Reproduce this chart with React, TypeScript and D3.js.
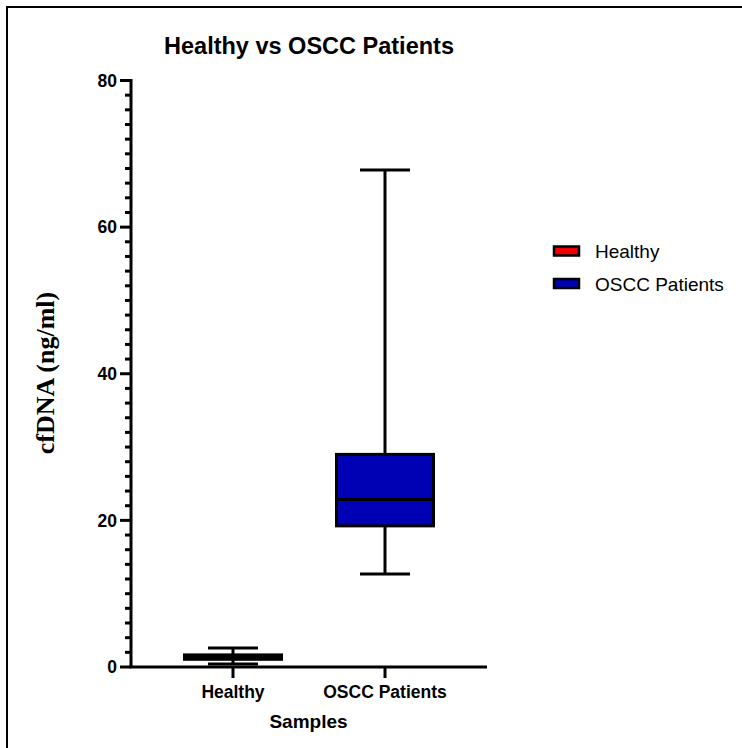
import { useEffect, useRef } from 'react';
import * as d3 from 'd3';

const groups = ['Healthy', 'OSCC Patients'];
const groupColors = ['#f00000', '#0000b4'];
// min, q1, median, q3, max (ng/ml)
const whiskerLow = [0.4, 12.7];
const q1 = [1.05, 19.25];
const median = [1.35, 22.85];
const q3 = [1.65, 29.0];
const whiskerHigh = [2.6, 67.8];
const yTicks = [0, 20, 40, 60, 80];

const App = () => {
  const svgRef = useRef<SVGSVGElement>(null);

  useEffect(() => {
    if (!svgRef.current) return;
    const svg = d3.select(svgRef.current);
    svg.selectAll('*').remove();

    const font = 'Arial, "Liberation Sans", Helvetica, sans-serif';

    // frame (only top and left edges show in the picture)
    svg.append('path')
      .attr('d', 'M7,760 V7 H760')
      .attr('fill', 'none')
      .attr('stroke', '#000')
      .attr('stroke-width', 2);

    const x = d3.scalePoint<string>().domain(groups).range([131, 487]).padding(0.671);
    const y = d3.scaleLinear().domain([0, 80]).range([667, 80.5]);

    // y axis
    const yAxis = svg.append('g').attr('transform', 'translate(131,0)');
    yAxis.append('line')
      .attr('y1', y(0)).attr('y2', y(80) - 1.5)
      .attr('stroke', '#000').attr('stroke-width', 3);
    yAxis.selectAll('line.minor')
      .data(d3.range(0, 81, 2))
      .join('line')
      .attr('class', 'minor')
      .attr('x1', d => (d % 20 === 0 ? -11 : -6))
      .attr('x2', 0)
      .attr('y1', d => y(d)).attr('y2', d => y(d))
      .attr('stroke', '#000').attr('stroke-width', 3);
    yAxis.selectAll('text')
      .data(yTicks)
      .join('text')
      .attr('x', -14)
      .attr('y', d => y(d))
      .attr('dy', '0.36em')
      .attr('text-anchor', 'end')
      .attr('font-family', font)
      .attr('font-weight', 'bold')
      .attr('font-size', 17.5)
      .text(d => d);

    // x axis
    const xAxis = svg.append('g').attr('transform', `translate(0,${y(0)})`);
    xAxis.append('line')
      .attr('x1', 129.5).attr('x2', 487)
      .attr('stroke', '#000').attr('stroke-width', 3);

    // boxes
    const boxW = 97;
    const capW = 50;
    groups.forEach((g, i) => {
      const cx = x(g)!;
      const box = svg.append('g');
      box.append('line')
        .attr('x1', cx).attr('x2', cx)
        .attr('y1', y(whiskerLow[i])).attr('y2', y(whiskerHigh[i]))
        .attr('stroke', '#000').attr('stroke-width', 3);
      [whiskerLow[i], whiskerHigh[i]].forEach(v => {
        box.append('line')
          .attr('x1', cx - capW / 2).attr('x2', cx + capW / 2)
          .attr('y1', y(v)).attr('y2', y(v))
          .attr('stroke', '#000').attr('stroke-width', 3);
      });
      box.append('rect')
        .attr('x', cx - boxW / 2)
        .attr('y', y(q3[i]))
        .attr('width', boxW)
        .attr('height', y(q1[i]) - y(q3[i]))
        .attr('fill', groupColors[i])
        .attr('stroke', '#000').attr('stroke-width', 3);
      box.append('line')
        .attr('x1', cx - boxW / 2).attr('x2', cx + boxW / 2)
        .attr('y1', y(median[i])).attr('y2', y(median[i]))
        .attr('stroke', '#000').attr('stroke-width', 3);
    });

    // x ticks drawn over boxes
    xAxis.selectAll('line.tick')
      .data(groups)
      .join('line')
      .attr('class', 'tick')
      .attr('x1', d => x(d)!).attr('x2', d => x(d)!)
      .attr('y1', 0).attr('y2', 11)
      .attr('stroke', '#000').attr('stroke-width', 3);
    xAxis.selectAll('text')
      .data(groups)
      .join('text')
      .attr('x', d => x(d)!)
      .attr('y', 31)
      .attr('text-anchor', 'middle')
      .attr('font-family', font)
      .attr('font-weight', 'bold')
      .attr('font-size', 17.5)
      .text(d => d);

    // titles
    svg.append('text')
      .attr('x', 309).attr('y', 54)
      .attr('text-anchor', 'middle')
      .attr('font-family', font)
      .attr('font-weight', 'bold')
      .attr('font-size', 23.5)
      .text('Healthy vs OSCC Patients');
    svg.append('text')
      .attr('x', 308.5).attr('y', 728)
      .attr('text-anchor', 'middle')
      .attr('font-family', font)
      .attr('font-weight', 'bold')
      .attr('font-size', 19)
      .text('Samples');
    svg.append('text')
      .attr('transform', 'translate(54,373) rotate(-90)')
      .attr('text-anchor', 'middle')
      .attr('font-family', '"Liberation Serif", "Times New Roman", serif')
      .attr('font-weight', 'bold')
      .attr('font-size', 26)
      .text('cfDNA (ng/ml)');

    // legend
    const legend = svg.append('g').attr('transform', 'translate(554,251)');
    const item = legend.selectAll('g')
      .data(groups)
      .join('g')
      .attr('transform', (_, i) => `translate(0,${i * 32.5})`);
    item.append('rect')
      .attr('x', 0).attr('y', -4.5)
      .attr('width', 25).attr('height', 9)
      .attr('fill', (_, i) => groupColors[i])
      .attr('stroke', '#000').attr('stroke-width', 2.5);
    item.append('text')
      .attr('x', 41).attr('y', 7)
      .attr('font-family', font)
      .attr('font-size', 19)
      .text(d => d);
  }, []);

  return (
    <>
      <style>{'body{margin:0}'}</style>
      <svg ref={svgRef} width={742} height={748} style={{ display: 'block', background: '#fff' }} />
    </>
  );
};

export default App;
